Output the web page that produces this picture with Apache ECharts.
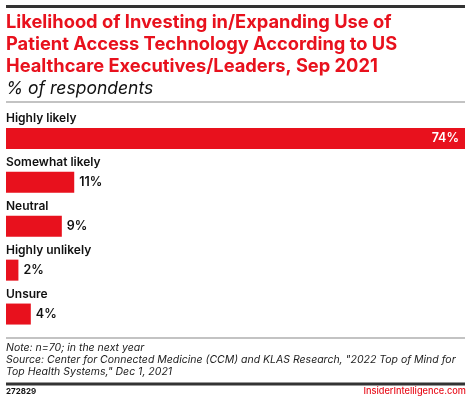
<!DOCTYPE html>
<html>
<head>
<meta charset="utf-8">
<script src="https://cdn.jsdelivr.net/npm/echarts@6/dist/echarts.min.js"></script>
<style>
  html, body { margin: 0; padding: 0; background: #fff; }
  #chart { width: 470px; height: 403px; }
</style>
</head>
<body>
<div id="chart"></div>
<script>
// data
const categories = ['Highly likely', 'Somewhat likely', 'Neutral', 'Highly unlikely', 'Unsure'];
const values = [74, 11, 9, 2, 4];

const titleLines = [
  'Likelihood of Investing in/Expanding Use of',
  'Patient Access Technology According to US',
  'Healthcare Executives/Leaders, Sep 2021'
];
const subtitle = '% of respondents';
const noteLines = [
  'Note: n=70; in the next year',
  'Source: Center for Connected Medicine (CCM) and KLAS Research, "2022 Top of Mind for',
  'Top Health Systems," Dec 1, 2021'
];
const chartId = '272829';
const brand = 'InsiderIntelligence.com';

const RED = '#e8111d';
const FONT = 'Inter, "Liberation Sans", Arial, sans-serif';

const chart = echarts.init(document.getElementById('chart'));

// the biggest bar carries its value inside, in white
const barData = values.map((v, i) => i === 0
  ? { value: v, label: { position: 'insideRight', color: '#fff', distance: 6 } }
  : v);

const rule = (y, h, color) => ({
  type: 'rect',
  silent: true,
  z: 10,
  shape: { x: 6, y: y, width: 459, height: h },
  style: { fill: color }
});

const text = (x, y, str, st) => ({
  type: 'text',
  silent: true,
  style: Object.assign({ x: x, y: y, text: str, fontFamily: FONT, verticalAlign: 'top' }, st)
});

chart.setOption({
  animation: false,
  grid: { left: 6, right: 5, top: 116.5, height: 219.5, containLabel: false },
  xAxis: {
    type: 'value',
    min: 0,
    max: 74,
    show: false
  },
  yAxis: {
    type: 'category',
    data: categories,
    inverse: true,
    axisLine: { show: false },
    axisTick: { show: false },
    splitLine: { show: false },
    axisLabel: {
      inside: true,
      margin: 0,
      align: 'left',
      verticalAlign: 'bottom',
      padding: [0, 0, 14, 0],
      color: '#111',
      fontFamily: FONT,
      fontWeight: 600,
      fontSize: 12
    }
  },
  series: [{
    type: 'bar',
    data: barData,
    barWidth: 21,
    itemStyle: { color: RED },
    label: {
      show: true,
      formatter: '{c}%',
      fontFamily: FONT,
      fontWeight: 600,
      fontSize: 12.5,
      color: '#111',
      position: 'right',
      distance: 5
    }
  }],
  graphic: [
    text(6, 12, titleLines.join('\n'), { fill: RED, fontWeight: 700, fontSize: 18.3, lineHeight: 22 }),
    text(6, 79, subtitle, { fill: '#111', fontStyle: 'italic', fontSize: 17.5, lineHeight: 20 }),
    text(6, 342, noteLines.join('\n'), { fill: '#222', fontStyle: 'italic', fontSize: 10.5, lineHeight: 12 }),
    text(6, 388, chartId, { fill: '#111', fontWeight: 700, fontSize: 8 }),
    text(466, 387, brand, { fill: RED, fontSize: 9.2, fontWeight: 500, align: 'right' }),
    rule(5, 3, '#333'),
    rule(101.5, 1, '#888'),
    rule(337.5, 1, '#888'),
    rule(382.5, 3, '#333')
  ]
});
</script>
</body>
</html>
